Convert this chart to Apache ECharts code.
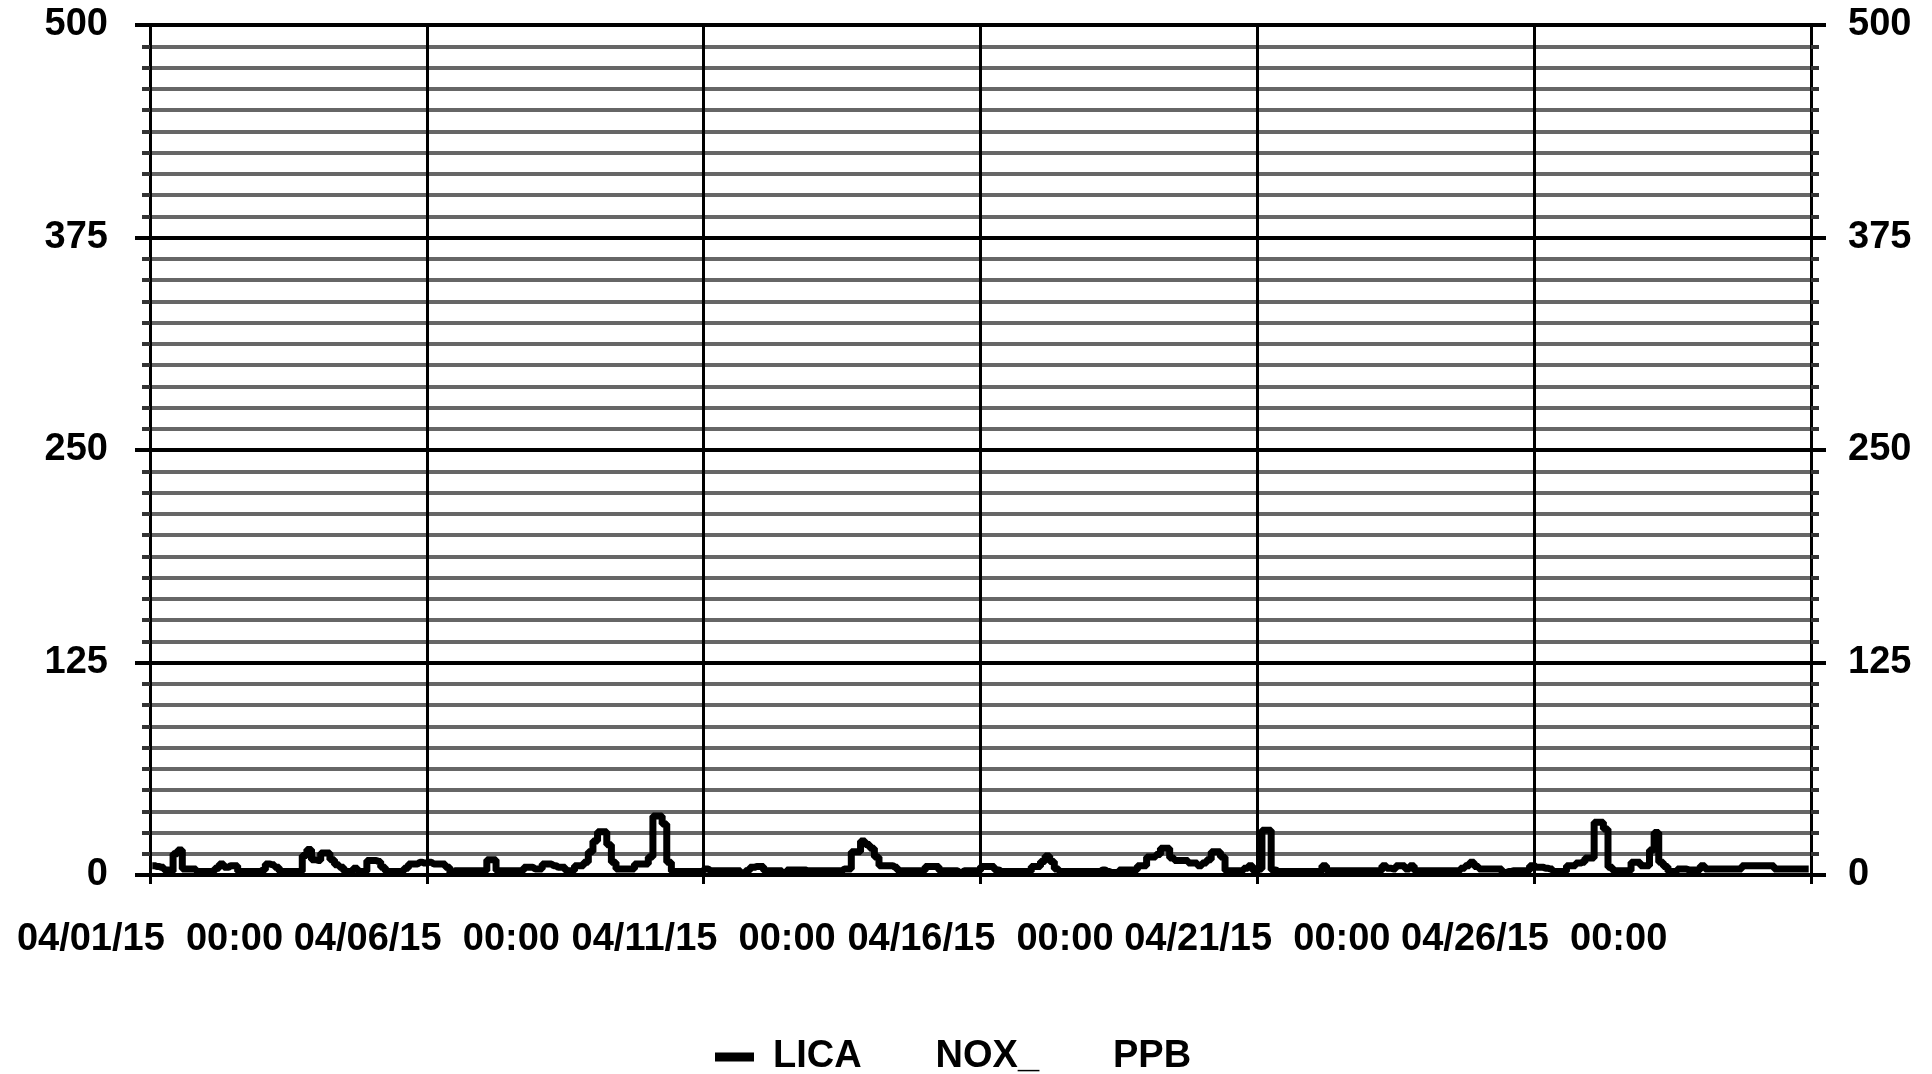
<!DOCTYPE html>
<html><head><meta charset="utf-8">
<script src="https://cdn.jsdelivr.net/npm/echarts@6/dist/echarts.min.js"></script>
<style>html,body{margin:0;padding:0;background:#fff}#c{width:1932px;height:1074px}</style>
</head><body><div id="c"></div>
<script>
const FONT = '"Liberation Sans", Arial, sans-serif';
const xTickLabels = ['04/01/15  00:00', '04/06/15  00:00', '04/11/15  00:00', '04/16/15  00:00', '04/21/15  00:00', '04/26/15  00:00'];
const seriesName = 'LICA       NOX_       PPB';
// 2-hour readings, one array per 5-day block
const nox_0401_0405 = [5.5,5,4.5,3,2,12.5,14.7,3.5,3.5,3.5, 2,2,2,2,4,6.5,4.5,5.5,5.5,2, 2,2,2,2,3,6.5,6,4.5,2,2, 2,2,2,11.5,15,9,8.5,13,13,9, 6,4.5,2,2,4,2,2,8.5,8.5,8, 4.5,2,2,2,2,4,6.5,6.5,7.5,7];
const nox_0406_0410 = [7.5,6.5,6.5,6.5,4.5,1,2.5,2.5,2.5,2.5, 2.5,2.5,2.5,9,9,2.5,2.5,2.5,2.5,2.5, 2.5,4.5,4.5,3.5,3.5,6.5,6.5,5.5,4.5,4.5, 2.5,2.5,5.5,5.5,7.5,13.7,20,25.5,25.5,17.8, 7.5,3.5,3.5,3.5,3.5,6.5,6.5,6.5,10.6,34.7, 34.7,30,7.5,2,2,2,2,2,2,2];
const nox_0411_0415 = [3.5,2.5,2.5,2.5,2.5,2.5,2.5,2.5,1,2.5, 4.5,5,5,2.5,2.5,2.5,2.5,1,3,3, 3,3,2.5,2.5,2.5,2.5,2.5,2.5,2.5,2.5, 3.5,3.5,13.7,13.7,20,18,15.7,10.6,5.5,5.5, 5.5,4.5,2.5,2.5,2.5,2.5,2.5,2.5,5,5, 5,2.5,2.5,2.5,2.5,1.5,2.5,2.5,2.5,2.5];
const nox_0416_0420 = [5,5,5,3,2,2,2,2,2,2, 2,5,5,8,11.2,8,3.5,2,2,2, 2,2,2,2,2,2,3,2,1.4,1.4, 3,3,3,3,5.5,5.5,10.6,10.6,12,15.7, 15.7,10,8.5,8.5,8.5,7,7,5.5,7,9, 13.7,13.7,10.6,2.5,2.5,2.5,2.5,4,5.5,2.5];
const nox_0421_0425 = [3.5,26.3,26.3,3,2,2,2,2,2,2, 2,2,2,2,5.5,2.5,2.5,2.5,2.5,2.5, 2.5,2.5,2.5,2.5,2.5,2.5,2.5,5.5,4,3.5, 5.5,5.5,3.5,5.5,2.5,2.5,2.5,2.5,2.5,2.5, 2.5,2.5,2.5,2.5,4,5.5,7.5,5,3.5,3.5, 3.5,3.5,3.5,1.5,2,2.5,2.5,2.5,2.5,5.5];
const nox_0426_0430 = [4.5,4.5,4,3.5,2,2,2,5.5,5.5,7, 7.5,10,10,31,31,27,4.5,2.5,2.5,2.5, 2.5,7.5,7.5,5.5,5.5,14.7,25,7.5,5,2, 2,3.5,3.5,3,3,3,5.5,3.5,3.5,3.5, 3.5,3.5,3.5,3.5,3.5,5.5,5.5,5.5,5.5,5.5, 5.5,5.5,3.5,3.5,3.5,3.5,3.5,3.5,3.5,3.5];

const values = [].concat(nox_0401_0405, nox_0406_0410, nox_0411_0415, nox_0416_0420, nox_0421_0425, nox_0426_0430);
const HOURS_PER_READING = 2;
const data = values.map((v, i) => [i * HOURS_PER_READING + HOURS_PER_READING / 2, v]);

const chart = echarts.init(document.getElementById('c'), null, {renderer: 'canvas'});
const labelStyle = {fontSize: 38, fontWeight: 'bold', color: '#000', fontFamily: FONT};
chart.setOption({
  animation: false,
  backgroundColor: '#fff',
  grid: {left: 150, right: 121, top: 25, bottom: 199},
  legend: {
    left: 715, top: 1038, padding: 0,
    icon: 'rect', itemWidth: 39, itemHeight: 9,
    textStyle: Object.assign({padding: [0, 0, 0, 14]}, labelStyle),
    data: [seriesName]
  },
  xAxis: {
    type: 'value', min: 0, max: 720, interval: 120,
    axisLine: {show: true, onZero: false, lineStyle: {color: '#000', width: 4}},
    axisTick: {show: true, length: 9, lineStyle: {color: '#000', width: 3}},
    axisLabel: Object.assign({margin: 46, showMinLabel: true, showMaxLabel: true, hideOverlap: false,
      formatter: v => xTickLabels[Math.round(v / 120)] || ''}, labelStyle),
    splitLine: {show: true, lineStyle: {color: '#000', width: 3}}
  },
  yAxis: [{
    type: 'value', min: 0, max: 500, interval: 125, position: 'left',
    axisLine: {show: true, lineStyle: {color: '#000', width: 3}},
    axisTick: {show: true, length: 15, lineStyle: {color: '#000', width: 4}},
    minorTick: {show: true, splitNumber: 10, length: 8, lineStyle: {color: '#333', width: 4}},
    minorSplitLine: {show: true, lineStyle: {color: '#666', width: 4}},
    splitLine: {show: true, lineStyle: {color: '#000', width: 4}},
    axisLabel: Object.assign({margin: 42}, labelStyle)
  }, {
    type: 'value', min: 0, max: 500, interval: 125, position: 'right',
    axisLine: {show: true, lineStyle: {color: '#000', width: 3}},
    axisTick: {show: true, length: 15, lineStyle: {color: '#000', width: 4}},
    minorTick: {show: true, splitNumber: 10, length: 8, lineStyle: {color: '#333', width: 4}},
    splitLine: {show: false},
    axisLabel: Object.assign({margin: 37}, labelStyle)
  }],
  series: [{
    type: 'line', name: seriesName, data: data, step: 'middle',
    showSymbol: false, symbol: 'none',
    lineStyle: {color: '#000', width: 7},
    itemStyle: {color: '#000'}
  }]
});
</script></body></html>
